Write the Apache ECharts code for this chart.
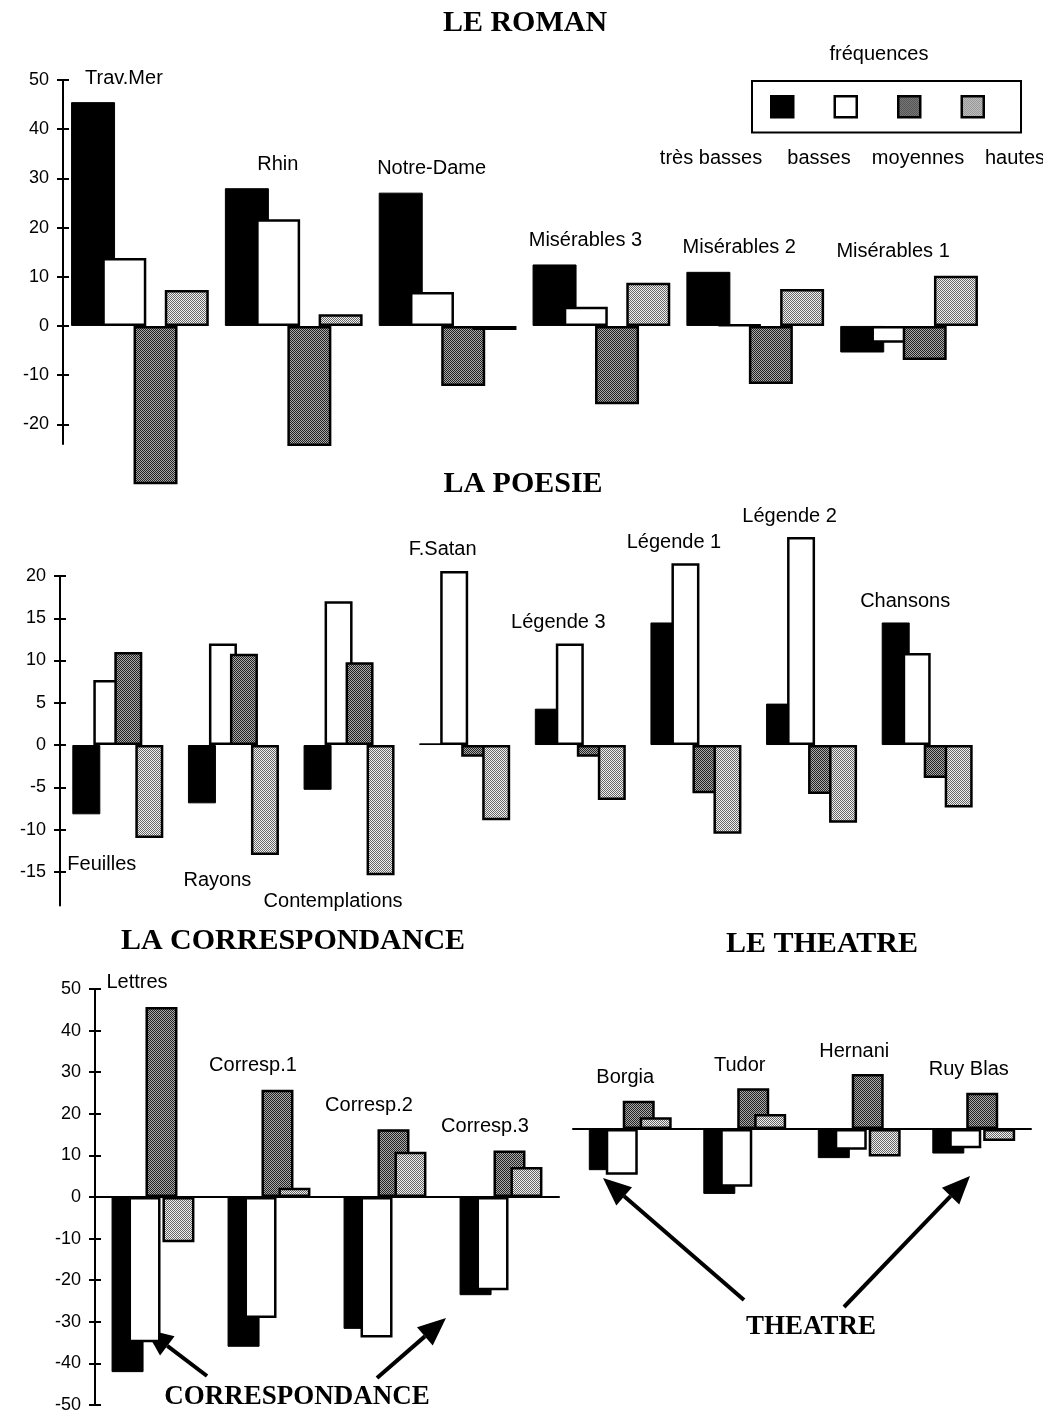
<!DOCTYPE html>
<html>
<head>
<meta charset="utf-8">
<script src="https://cdn.jsdelivr.net/npm/echarts@6/dist/echarts.min.js"></script>
<style>
html,body{margin:0;padding:0;background:#fff;}
#c{width:1043px;height:1415px;}
</style>
</head>
<body>
<div id="c"></div>
<script>
// ---------- DATA ----------
const seriesNames = ['très basses', 'basses', 'moyennes', 'hautes'];

const romanCats = ['Trav.Mer', 'Rhin', 'Notre-Dame', 'Misérables 3', 'Misérables 2', 'Misérables 1'];
const romanTresBasses = [45.5, 28.0, 27.1, 12.5, 11.0, -5.4];
const romanBasses     = [13.8, 21.7, 6.9, 3.9, 0.3, -3.4];
const romanMoyennes   = [-32.2, -24.4, -12.2, -15.9, -11.8, -6.9];
const romanHautes     = [7.3, 2.4, -0.8, 8.8, 7.5, 10.2];
const romanTicks = [-20, -10, 0, 10, 20, 30, 40, 50];

const poesieCats = ['Feuilles', 'Rayons', 'Contemplations', 'F.Satan', 'Légende 3', 'Légende 1', 'Légende 2', 'Chansons'];
const poesieTresBasses = [-8.2, -6.9, -5.3, 0.2, 4.3, 14.5, 4.9, 14.5];
const poesieBasses     = [7.7, 12.0, 17.0, 20.6, 12.0, 21.5, 24.6, 10.9];
const poesieMoyennes   = [11.0, 10.8, 9.8, -1.4, -1.4, -5.7, -5.8, -3.9];
const poesieHautes     = [-11.0, -13.0, -15.4, -8.9, -6.5, -10.5, -9.2, -7.4];
const poesieTicks = [-15, -10, -5, 0, 5, 10, 15, 20];

const corrCats = ['Lettres', 'Corresp.1', 'Corresp.2', 'Corresp.3'];
const corrTresBasses = [-42.1, -36.0, -31.7, -23.6];
const corrBasses     = [-34.9, -29.1, -33.8, -22.4];
const corrMoyennes   = [45.7, 25.8, 16.3, 11.2];
const corrHautes     = [-10.9, 2.2, 10.9, 7.2];
const corrTicks = [-50, -40, -30, -20, -10, 0, 10, 20, 30, 40, 50];

const theatreCats = ['Borgia', 'Tudor', 'Hernani', 'Ruy Blas'];
const theatreTresBasses = [-9.9, -15.6, -7.0, -5.9];
const theatreBasses     = [-11.0, -13.9, -5.0, -4.6];
const theatreMoyennes   = [6.8, 9.8, 13.2, 8.7];
const theatreHautes     = [2.8, 3.6, -6.6, -2.9];

// ---------- STYLE ----------
function pat(c1, c2) {
  const cv = document.createElement('canvas');
  cv.width = 2; cv.height = 2;
  const g = cv.getContext('2d');
  g.fillStyle = c2; g.fillRect(0, 0, 2, 2);
  g.fillStyle = c1; g.fillRect(0, 0, 1, 1); g.fillRect(1, 1, 1, 1);
  return cv;
}
const patMoy = pat('#222', '#aaa');
const patHaut = pat('#666', '#f0f0f0');
const itemStyles = [
  { color: '#000', borderColor: '#000', borderWidth: 1 },
  { color: '#fff', borderColor: '#000', borderWidth: 2.5 },
  { color: { image: patMoy, repeat: 'repeat' }, borderColor: '#000', borderWidth: 2.5 },
  { color: { image: patHaut, repeat: 'repeat' }, borderColor: '#000', borderWidth: 2.5 }
];
const SANS = '"Liberation Sans", Arial, Helvetica, sans-serif';
const SERIF = '"Liberation Serif", "Times New Roman", serif';

const panels = [
  { cats: romanCats, vals: [romanTresBasses, romanBasses, romanMoyennes, romanHautes],
    grid: { left: 63, top: 80, width: 923, height: 364 }, min: -24, max: 50, ticks: romanTicks,
    barWidth: 44, barGap: '-29%', showY: true, showX: false,
    labelOff: [-16, -24], below: [] },
  { cats: poesieCats, vals: [poesieTresBasses, poesieBasses, poesieMoyennes, poesieHautes],
    grid: { left: 60, top: 576, width: 925, height: 329.6 }, min: -19, max: 20, ticks: poesieTicks,
    barWidth: 28, barGap: '-25%', showY: true, showX: false,
    labelOff: [-22, -21], belowOff: [-16, 26], below: [0, 1, 2] },
  { cats: corrCats, vals: [corrTresBasses, corrBasses, corrMoyennes, corrHautes],
    grid: { left: 95, top: 989, width: 464, height: 416 }, min: -50, max: 50, ticks: corrTicks,
    barWidth: 32, barGap: '-47%', showY: true, showX: true,
    labelOff: [-16, -24], below: [] },
  { cats: theatreCats, vals: [theatreTresBasses, theatreBasses, theatreMoyennes, theatreHautes],
    grid: { left: 573, top: 1045.8, width: 458, height: 166.4 }, min: -20, max: 20, ticks: [],
    barWidth: 32, barGap: '-47%', showY: false, showX: true,
    labelOff: [-5, -23], below: [] }
];

const grids = [], xAxes = [], yAxes = [], series = [];
panels.forEach((p, gi) => {
  grids.push(p.grid);
  xAxes.push({
    type: 'category', gridIndex: gi, data: p.cats,
    axisLine: { show: p.showX, onZero: true, lineStyle: { color: '#000', width: 2 } },
    axisTick: { show: false }, axisLabel: { show: false }, splitLine: { show: false }
  });
  const common = { type: 'value', gridIndex: gi, min: p.min, max: p.max, position: 'left', offset: 0, splitLine: { show: false } };
  yAxes.push(Object.assign({}, common, {
    show: p.showY,
    axisLine: { show: true, onZero: false, lineStyle: { color: '#000', width: 2 } },
    axisTick: { show: true, length: 6, customValues: p.ticks, lineStyle: { color: '#000', width: 2 } },
    axisLabel: { show: true, customValues: p.ticks, margin: 14, color: '#000', fontSize: 18, fontFamily: SANS }
  }));
  yAxes.push(Object.assign({}, common, {
    show: p.showY,
    axisLine: { show: false, onZero: false },
    axisTick: { show: true, inside: true, length: 6, customValues: p.ticks, lineStyle: { color: '#000', width: 2 } },
    axisLabel: { show: false }
  }));
  p.vals.forEach((arr, si) => {
    series.push({
      type: 'bar', name: seriesNames[si], xAxisIndex: gi, yAxisIndex: gi * 2,
      data: arr, barWidth: p.barWidth, barGap: p.barGap, clip: false,
      itemStyle: itemStyles[si], emphasis: { disabled: true }, silent: true, z: 2 + si
    });
  });
  // category name labels, placed from each group's extreme value
  series.push({
    type: 'scatter', xAxisIndex: gi, yAxisIndex: gi * 2, symbolSize: 0, silent: true, z: 10, clip: false,
    itemStyle: { color: '#000', opacity: 1 },
    emphasis: { disabled: true },
    data: p.cats.map((c, i) => {
      const vs = p.vals.map(a => a[i]);
      const isBelow = p.below.indexOf(i) >= 0;
      return {
        name: c, value: [i, isBelow ? Math.min(...vs) : Math.max(...vs)],
        label: { offset: isBelow ? p.belowOff : p.labelOff }
      };
    }),
    label: { show: true, position: 'inside', formatter: d => d.name, color: '#000', opacity: 1,
             textBorderWidth: 0, fontSize: 20, fontFamily: SANS }
  });
});

// ---------- ANNOTATIONS ----------
function txt(x, y, text, font, align) {
  return { type: 'text', x: x, y: y, silent: true,
    style: { text: text, font: font, fill: '#000', textAlign: align || 'center', textVerticalAlign: 'middle', align: align || 'center', verticalAlign: 'middle' } };
}
function arrow(x1, y1, x2, y2) {
  const a = Math.atan2(y2 - y1, x2 - x1), L = 28, w = 12;
  const bx = x2 - L * Math.cos(a), by = y2 - L * Math.sin(a);
  return [
    { type: 'line', silent: true, shape: { x1: x1, y1: y1, x2: bx, y2: by }, style: { stroke: '#000', lineWidth: 4 } },
    { type: 'polygon', silent: true, shape: { points: [[x2, y2], [bx - w * Math.sin(a), by + w * Math.cos(a)], [bx + w * Math.sin(a), by - w * Math.cos(a)]] }, style: { fill: '#000' } }
  ];
}
const graphics = [
  txt(525, 23, 'LE ROMAN', 'bold 30px ' + SERIF),
  txt(523, 484, 'LA POESIE', 'bold 30px ' + SERIF),
  txt(293, 941, 'LA CORRESPONDANCE', 'bold 30px ' + SERIF),
  txt(822, 944, 'LE THEATRE', 'bold 30px ' + SERIF),
  txt(879, 54, 'fréquences', '20px ' + SANS),
  txt(711, 158, 'très basses', '20px ' + SANS),
  txt(819, 158, 'basses', '20px ' + SANS),
  txt(918, 158, 'moyennes', '20px ' + SANS),
  txt(985, 158, 'hautes', '20px ' + SANS, 'left'),
  txt(297, 1397, 'CORRESPONDANCE', 'bold 27px ' + SERIF),
  txt(811, 1327, 'THEATRE', 'bold 27px ' + SERIF)
].concat(arrow(207, 1376, 145, 1329), arrow(377, 1378, 446, 1318),
         arrow(744, 1300, 603, 1178), arrow(844, 1307, 970, 1176));

const chart = echarts.init(document.getElementById('c'), null, { renderer: 'canvas' });
chart.setOption({
  animation: false,
  backgroundColor: '#fff',
  grid: grids, xAxis: xAxes, yAxis: yAxes, series: series,
  legend: {
    data: seriesNames, left: 752, top: 81, orient: 'horizontal', icon: 'rect',
    itemWidth: 22, itemHeight: 21, itemGap: 39, formatter: () => '', selectedMode: false,
    borderColor: '#000', borderWidth: 2, padding: [14, 36, 14, 18],
    itemStyle: { borderWidth: 2.5, borderColor: '#000' }
  },
  graphic: graphics
});
</script>
</body>
</html>
